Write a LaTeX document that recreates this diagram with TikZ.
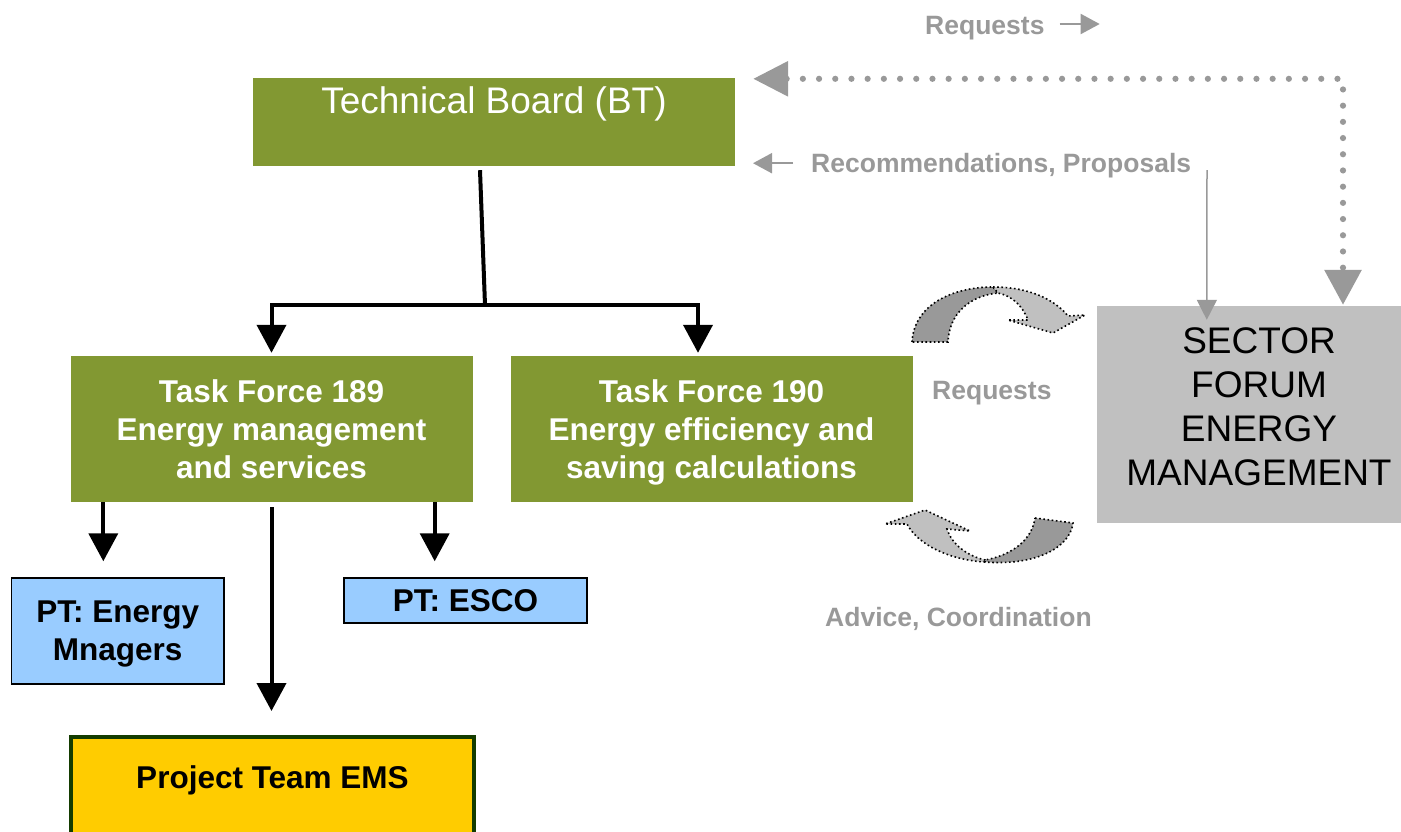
\documentclass[tikz,border=0pt]{standalone}
\usepackage{fontspec}
\setmainfont{Liberation Sans}
\usepackage{tikz}
\definecolor{boardgreen}{RGB}{130,152,50}
\definecolor{ptblue}{RGB}{153,204,255}
\definecolor{emsyellow}{RGB}{255,204,0}
\definecolor{emsborder}{RGB}{20,60,0}
\definecolor{forumgray}{RGB}{192,192,192}
\definecolor{labelgray}{RGB}{153,153,153}
\definecolor{swoopgray}{RGB}{153,153,153}
\usetikzlibrary{arrows.meta,positioning}
\tikzset{
	board/.style={
		rectangle,
		fill=boardgreen,
		text=white,
		inner sep=0pt,
		font=\fontsize{37}{44}\selectfont
	},
	taskforce/.style={
		rectangle,
		fill=boardgreen,
		text=white,
		inner sep=0pt,
		align=center,
		minimum width=402pt,
		minimum height=146pt,
		font=\fontsize{31.5}{38}\selectfont\bfseries
	},
	ptbox/.style={
		rectangle,
		draw=black,
		line width=1.5pt,
		fill=ptblue,
		inner sep=0pt,
		align=center,
		font=\fontsize{31.5}{38}\selectfont\bfseries
	},
	emsbox/.style={
		rectangle,
		draw=emsborder,
		line width=4pt,
		fill=emsyellow,
		inner sep=0pt,
		font=\fontsize{31.5}{38}\selectfont\bfseries
	},
	forumbox/.style={
		rectangle,
		fill=forumgray,
		inner sep=0pt
	},
	glabel/.style={
		text=labelgray,
		inner sep=0pt,
		anchor=base west,
		font=\fontsize{26.5}{32}\selectfont\bfseries
	},
	tree/.style={
		draw=black,
		line width=4pt
	},
	treearrow/.style={
		tree,
		-{Triangle[length=28pt,width=29pt]}
	},
	dotlink/.style={
		draw=labelgray,
		line width=6.2pt,
		line cap=round,
		dash pattern=on 0pt off 16.2pt,
		{Triangle[length=35pt,width=34pt]}-{Triangle[length=35pt,width=36pt]}
	},
	thinlink/.style={
		draw=labelgray,
		line width=1.5pt,
		-{Triangle[length=20pt,width=20pt]}
	},
	textarrow/.style={
		draw=labelgray,
		line width=2pt,
		-{Triangle[length=19pt,width=20pt]}
	},
	swoopdark/.style={
		fill=swoopgray,
		draw=black,
		line width=1.6pt,
		dash pattern=on 1.6pt off 2.6pt
	},
	swooplight/.style={
		swoopdark,
		fill=forumgray
	},
}
\begin{document}
\begin{tikzpicture}[x=1pt,y=-1pt]
	\useasboundingbox (0,0) rectangle (1401,831);
	% boxes
	\node[board,minimum width=482pt,minimum height=88pt,text height=27pt,text depth=45pt] (tb) at (494,122) {Technical Board (BT)};
	\node[taskforce] (tf189) at (271.5,429) {Task Force 189\\Energy management\\and services};
	\node[taskforce] (tf190) at (711.5,429) {Task Force 190\\Energy efficiency and\\\smash{saving calculations}};
	\node[ptbox,minimum width=212.5pt,minimum height=106pt] (ptem) at (117.7,631) {PT: Energy\\\smash{Mnagers}};
	\node[ptbox,minimum width=243pt,minimum height=45pt] (ptesco) at (465.5,600.5) {PT: ESCO};
	\node[emsbox,minimum width=403pt,minimum height=116pt,text height=23pt,text depth=37pt] (ems) at (272.5,795) {Project Team EMS};
	\node[forumbox,minimum width=324pt,minimum height=217pt] (forum) at (1259,414.5) {};
	\node[inner sep=0pt,anchor=north,align=center,font=\fontsize{37}{44}\selectfont] (forumtext) at (1259,327) {SECTOR\\FORUM\\ENERGY\\MANAGEMENT};
	% tree
	\coordinate (split) at (485,305);
	\draw[tree] ([xshift=-14pt,yshift=-4pt]tb.south) -- (split);
	\draw[treearrow,shorten >=3pt] (split) -| (tf189.north);
	\draw[treearrow,shorten >=3pt] (split) -| ([xshift=-13.5pt]tf190.north);
	\draw[treearrow,shorten >=16pt] ([xshift=33pt]tf189.south west) -- ([xshift=33pt]tf189.south west |- ptem.north);
	\draw[treearrow,shorten >=16pt] ([xshift=-38pt]tf189.south east) -- ([xshift=-38pt]tf189.south east |- ptesco.north);
	\draw[treearrow,shorten <=5pt,shorten >=24pt] (tf189.south) -- (tf189.south |- ems.north);
	% labels
	\node[glabel] (reqtop) at (925,34.5) {Requests};
	\node[glabel] (rec) at (811,172.7) {Recommendations, Proposals};
	\node[glabel] (reqmid) at (932,399) {Requests};
	\node[glabel] (advice) at (825,626.7) {Advice, Coordination};
	\draw[textarrow] ([xshift=15pt,yshift=10.5pt]reqtop.base east) -- ++(40,0);
	\draw[textarrow] ([xshift=-18pt,yshift=9.5pt]rec.base west) -- ++(-40,0);
	% links to the forum
	\draw[dotlink] ([xshift=18pt,yshift=-1pt]tb.north east) -| ([xshift=84pt,yshift=1pt]forum.north);
	\coordinate (recdrop) at (1207,170);
	\draw[thinlink] (recdrop) -- ([xshift=110pt,yshift=-14pt]forum.north west);
	% swoops
	\draw[swoopdark] (912,342) .. controls (914,305) and (952,287) .. (993,287) -- (998,293) .. controls (968,296) and (949,315) .. (948,342) -- cycle;
	\draw[swooplight] (993,287) .. controls (1030,287) and (1055,300) .. (1068,316) -- (1085,315) -- (1053,333) -- (1008,320) -- (1028,320) .. controls (1022,305) and (1012,296) .. (998,293) -- cycle;
	\draw[swooplight] (985,562) .. controls (950,560) and (918,545) .. (907,524) -- (885,524) -- (925,510) -- (970,531) -- (947,529) .. controls (952,545) and (968,556) .. (985,560) -- cycle;
	\draw[swoopdark] (1035,518) -- (1073,523) .. controls (1070,548) and (1035,566) .. (985,562) -- (985,560) .. controls (1012,555) and (1032,540) .. (1035,518) -- cycle;
\end{tikzpicture}
\end{document}
